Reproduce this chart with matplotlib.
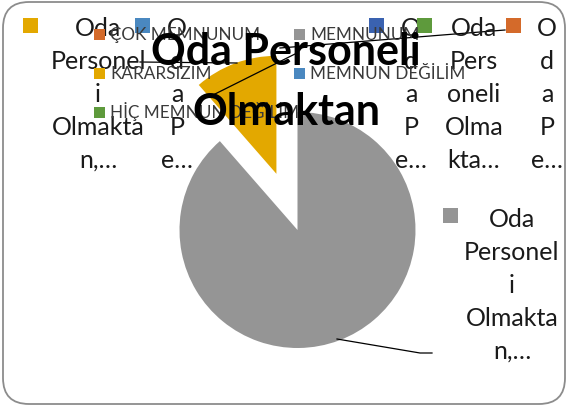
import matplotlib
matplotlib.use("Agg")
import matplotlib.pyplot as plt
from matplotlib.patches import FancyBboxPatch, Rectangle

# --- data ---
categories = ["ÇOK MEMNUNUM", "MEMNUNUM", "KARARSIZIM", "MEMNUN DEĞİLİM", "HİÇ MEMNUN DEĞİLİM"]
values = [0, 31, 4, 0, 0]
colors = ["#D46A2A", "#959595", "#E3A800", "#4A88C0", "#5E9A3C"]
explode = [0, 0, 60, 0, 0]

title_lines = ["Oda Personeli", "Olmaktan"]

# data labels (as Excel wrapped/truncated them)
lbl_colors = ["#E3A800", "#4A88C0", "#3A62B0", "#5E9A3C", "#D46A2A", "#959595"]
lbl_lines = [
    ["Oda", "Personel", "i", "Olmakta", "n,…"],
    ["O", "d", "a", "P", "e…"],
    ["O", "d", "a", "P", "e…"],
    ["Oda", "Pers", "oneli", "Olma", "kta…"],
    ["O", "d", "a", "P", "e…"],
    ["Oda", "Personel", "i", "Olmakta", "n,…"],
]

W, H = 568, 410
FONT = "Lato"
plt.rcParams["font.family"] = [FONT, "DejaVu Sans"]

fig = plt.figure(figsize=(W / 100, H / 100), dpi=100)
ax = fig.add_axes([0, 0, 1, 1])

# pie in pixel coords (y axis inverted -> counterclock=True draws clockwise on screen)
ax.pie(values, colors=colors, explode=explode, center=(297.5, 231), radius=118,
       startangle=-90, counterclock=True, wedgeprops=dict(linewidth=0))
ax.set_xlim(0, W)
ax.set_ylim(H, 0)
ax.set_aspect("equal")
ax.axis("off")

# chart border
ax.add_patch(FancyBboxPatch((3, 3), W - 6, H - 8, boxstyle="round,pad=0,rounding_size=26",
                            fc="none", ec="#8c8c8c", lw=1.3, zorder=0))

# leader lines
ax.plot([140, 237], [63, 64], color="black", lw=0.9, zorder=3)
ax.plot([213, 297], [96, 54], color="black", lw=0.9, zorder=3)
ax.plot([280, 505], [49, 31], color="black", lw=0.9, zorder=3)
ax.plot([337, 420, 432], [340, 354, 354], color="black", lw=0.9, zorder=3)

# data labels
lbl_sq = [(30.5, 26), (142.5, 26), (376.5, 26), (424.5, 26), (513.5, 26), (450.5, 216.5)]
lbl_tx = [(98, 36), (177, 36), (411, 36), (474, 36), (547, 36), (512, 227)]
for c, lines, (sx, sy), (tx, ty) in zip(lbl_colors, lbl_lines, lbl_sq, lbl_tx):
    ax.add_patch(Rectangle((sx - 7.5, sy - 7.5), 15, 15, color=c, lw=0, zorder=4))
    for i, ln in enumerate(lines):
        ax.text(tx, ty + i * 33, ln, ha="center", va="baseline", fontsize=18,
                color="#1a1a1a", zorder=4)

# legend (two columns, row-wise order)
leg_pos = [(94, 40), (294, 40), (94, 79), (294, 79), (94, 118)]
for name, c, (lx, ly) in zip(categories, colors, leg_pos):
    ax.add_patch(Rectangle((lx, ly - 10), 11, 11, color=c, lw=0, zorder=5))
    ax.text(lx + 16, ly, name, ha="left", va="baseline", fontsize=12.3,
            color="#3a3a3a", zorder=5)

# title
for i, t in enumerate(title_lines):
    ax.text(286, 65 + i * 60, t, ha="center", va="baseline", fontsize=31,
            fontweight="bold", color="black", zorder=6)

fig.savefig("out.png", dpi=100)
